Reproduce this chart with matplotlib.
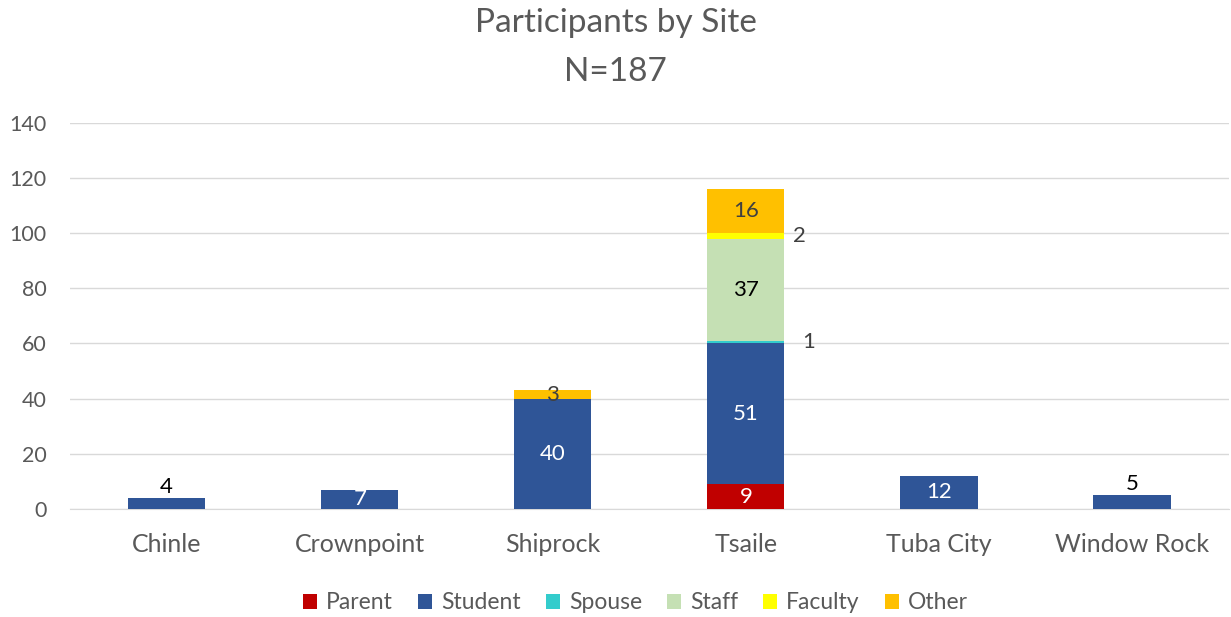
import matplotlib.pyplot as plt
import numpy as np

sites = ['Chinle', 'Crownpoint', 'Shiprock', 'Tsaile', 'Tuba City', 'Window Rock']
roles = ['Parent', 'Student', 'Spouse', 'Staff', 'Faculty', 'Other']
parent = [0, 0, 0, 9, 0, 0]
student = [4, 7, 40, 51, 12, 5]
spouse = [0, 0, 0, 1, 0, 0]
staff = [0, 0, 0, 37, 0, 0]
faculty = [0, 0, 0, 2, 0, 0]
other = [0, 0, 3, 16, 0, 0]
colors = ['#C00000', '#2F5597', '#33CCCC', '#C5E0B4', '#FFFF00', '#FFC000']

plt.rcParams['font.family'] = ['Lato', 'DejaVu Sans']
grey = '#595959'

fig = plt.figure(figsize=(12.31, 6.17), dpi=100)
ax = fig.add_axes([0.057, 0.175, 0.941, 0.626])

x = np.arange(len(sites))
width = 0.4
series = [parent, student, spouse, staff, faculty, other]
bottom = np.zeros(len(sites))
bars = []
for name, vals, c in zip(roles, series, colors):
    ax.bar(x, vals, width, bottom=bottom, color=c, label=name, zorder=3)
    bars.append((vals, bottom.copy(), c))
    bottom += np.array(vals)

# data labels
lab_size = 16
for i in range(len(sites)):
    for k, (vals, bot, c) in enumerate(bars):
        v = vals[i]
        if v == 0:
            continue
        mid = bot[i] + v / 2
        if k in (2, 4):
            # tiny segments: labels sit to the right of the bar
            off = 13 if k == 2 else 6
            ax.annotate(str(v), (x[i] + width / 2, mid), xytext=(off, 0),
                        textcoords='offset points', ha='left', va='center',
                        fontsize=lab_size, color='#404040', zorder=5)
        elif v <= 5 and k == 1:
            ax.annotate(str(v), (x[i], bot[i] + v), xytext=(0, 1),
                        textcoords='offset points', ha='center', va='bottom',
                        fontsize=lab_size, color='black', zorder=5)
        else:
            if k in (0, 1):
                tc = 'white'
            elif k == 3:
                tc = 'black'
            else:
                tc = '#404040'
            ax.text(x[i], mid, str(v), ha='center', va='center',
                    fontsize=lab_size, color=tc, zorder=5)

ax.set_ylim(0, 140)
ax.set_yticks(np.arange(0, 141, 20))
ax.set_xlim(-0.5, len(sites) - 0.5)
ax.set_xticks(x)
ax.set_xticklabels(sites)
ax.tick_params(axis='both', length=0, colors=grey)
ax.tick_params(axis='x', pad=17, labelsize=18)
ax.tick_params(axis='y', pad=17, labelsize=15.5)
ax.grid(axis='y', color='#D9D9D9', linewidth=1, zorder=0)
for s in ['top', 'right', 'left']:
    ax.spines[s].set_visible(False)
ax.spines['bottom'].set_color('#D9D9D9')

fig.text(0.5, 0.962, 'Participants by Site', ha='center', va='center',
         fontsize=24, color=grey)
fig.text(0.5, 0.884, 'N=187', ha='center', va='center',
         fontsize=24, color=grey)

ax.legend(loc='center', bbox_to_anchor=(0.488, -0.243), ncol=6,
          frameon=False, fontsize=16.5, handlelength=0.6, handleheight=0.6,
          handletextpad=0.4, columnspacing=1.1, labelcolor=grey)

fig.savefig('out.png', dpi=100)
